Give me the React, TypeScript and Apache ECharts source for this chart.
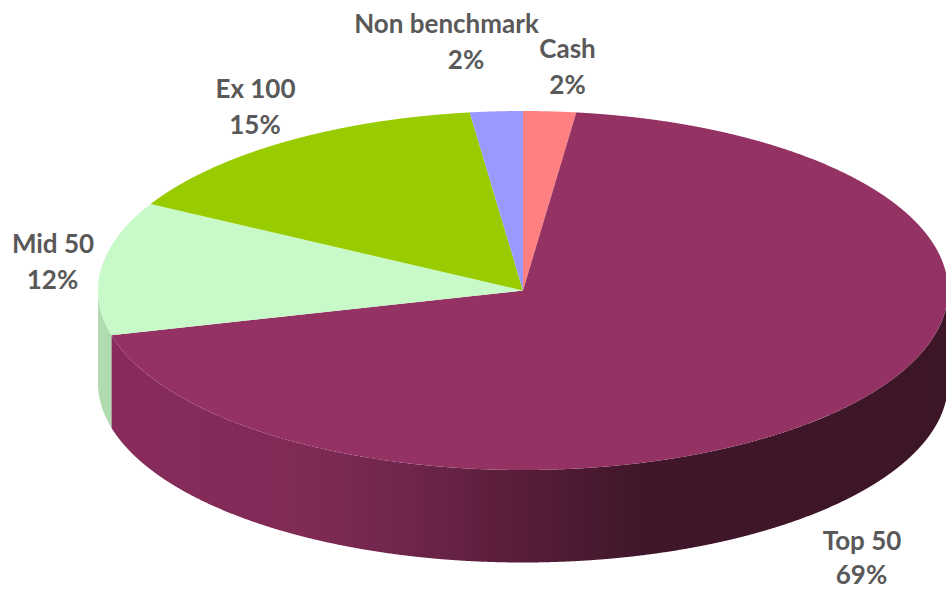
import React, { useEffect, useRef } from "react";
import * as echarts from "echarts";

const categories = ["Cash", "Top 50", "Mid 50", "Ex 100", "Non benchmark"];
const shares = [2, 69, 12, 15, 2];
const topColors = ["#FF8080", "#943263", "#C8F9C8", "#99CC00", "#9999FF"];
const wallColors = ["#D96D6D", "#7F2A55", "#B0DCB0", "#82AD00", "#8282D9"];
const nameCentres = [
  [567.5, 47.5],
  [862, 539.5],
  [53, 242.5],
  [255.5, 87.5],
  [446.5, 22.5],
];
const shareCentres = [
  [567.5, 84],
  [861.5, 574],
  [52.5, 279],
  [255, 124],
  [466, 59],
];

const CX = 523;
const CY = 290.5;
const RX = 425;
const RY = 179.5;
const DEPTH = 92.5;
const FONT = "Lato, 'Noto Sans', sans-serif";
const total = shares.reduce((a, b) => a + b, 0);
const starts = shares.map((_, i) => shares.slice(0, i).reduce((a, b) => a + b, 0));

const toAngle = (share: number) => (share / total) * Math.PI * 2;
const rim = (a: number, dy = 0): number[] => [CX + RX * Math.sin(a), CY - RY * Math.cos(a) + dy];
const arc = (a0: number, a1: number, dy = 0): number[][] => {
  const n = Math.max(2, Math.ceil((a1 - a0) / 0.002));
  const out: number[][] = [];
  for (let i = 0; i <= n; i++) out.push(rim(a0 + ((a1 - a0) * i) / n, dy));
  return out;
};

const wallGradient = new echarts.graphic.LinearGradient(0, 0, 1, 0, [
  { offset: 0, color: "#882C5B" },
  { offset: 0.225, color: "#802A56" },
  { offset: 0.345, color: "#70264C" },
  { offset: 0.465, color: "#5C1E3D" },
  { offset: 0.63, color: "#40172A" },
  { offset: 1, color: "#3C1527" },
]);

function renderWall(params: any, api: any) {
  const i = params.dataIndex;
  const a0 = Math.max(toAngle(starts[i]), Math.PI / 2);
  const a1 = Math.min(toAngle(starts[i] + api.value(0)), (Math.PI * 3) / 2);
  if (a1 <= a0) return { type: "group", children: [] };
  const top = arc(a0, a1);
  const bottom = arc(a0, a1, DEPTH).reverse();
  return {
    type: "polygon",
    shape: { points: top.concat(bottom) },
    style: { fill: i === 1 ? wallGradient : wallColors[i], stroke: null },
  };
}

function renderTop(params: any, api: any) {
  const i = params.dataIndex;
  const a0 = toAngle(starts[i]);
  const a1 = toAngle(starts[i] + api.value(0));
  return {
    type: "polygon",
    shape: { points: [[CX, CY]].concat(arc(a0, a1)) },
    style: { fill: topColors[i], stroke: null },
  };
}

function renderLabel(params: any, api: any) {
  const i = params.dataIndex;
  const line = (text: string, at: number[]) => ({
    type: "text",
    style: {
      text,
      x: at[0],
      y: at[1],
      align: "center",
      verticalAlign: "middle",
      fill: "#595959",
      font: `bold 26px ${FONT}`,
    },
  });
  return {
    type: "group",
    children: [line(categories[i], nameCentres[i]), line(`${api.value(0)}%`, shareCentres[i])],
  };
}

export default function App() {
  const ref = useRef<HTMLDivElement>(null);
  useEffect(() => {
    const chart = echarts.init(ref.current!, undefined, { renderer: "svg" });
    const base = { type: "custom", coordinateSystem: "none", silent: true, data: shares };
    chart.setOption({
      animation: false,
      backgroundColor: "#FFFFFF",
      series: [
        { ...base, z: 1, renderItem: renderWall },
        { ...base, z: 2, renderItem: renderTop },
        { ...base, z: 3, renderItem: renderLabel },
      ],
    });
    return () => chart.dispose();
  }, []);
  return (
    <div
      ref={ref}
      style={{ position: "absolute", left: 0, top: 0, width: 946, height: 590 }}
    />
  );
}
